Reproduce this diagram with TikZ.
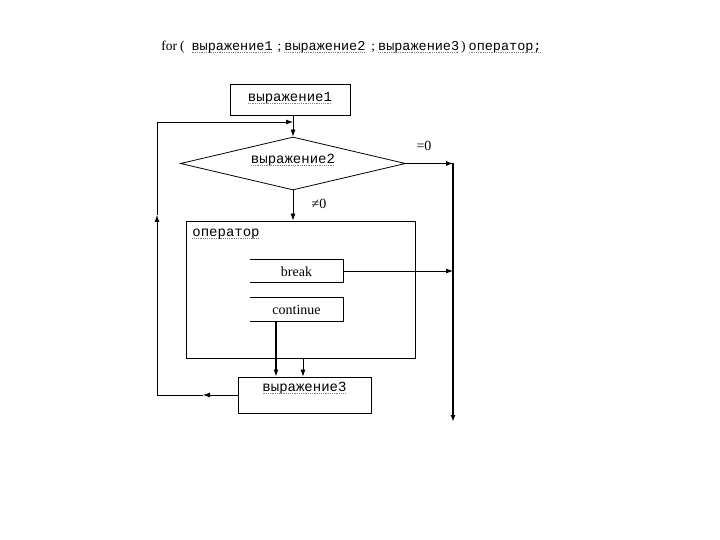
\documentclass[tikz,border=0pt]{standalone}
\usepackage{fontspec}
\setmainfont{Liberation Serif}
\newfontfamily\monof{Liberation Mono}
\usetikzlibrary{arrows.meta,shapes.geometric}
\newsavebox\mwbox
\newcommand\mw[1]{\sbox\mwbox{\monof #1}\rlap{\usebox\mwbox}\raisebox{-2.8pt}{\color{gray}\hbox to\wd\mwbox{\xleaders\hbox{\rule{0.9pt}{0.9pt}\kern0.9pt}\hfill}}}
\tikzset{
  arr/.style={-{Latex[length=7pt,width=5pt]}},
  thk/.style={line width=2.2pt},
  boxn/.style={draw, line width=0.8pt, inner sep=0pt},
  lbl/.style={inner sep=0pt, font=\fontsize{14}{16}\selectfont},
  every path/.style={line width=0.8pt}
}
\begin{document}
\begin{tikzpicture}[x=1pt,y=-1pt]
\useasboundingbox (0,0) rectangle (720,540);
% title
\node[lbl, anchor=west, font=\fontsize{13.5}{16}\selectfont] (title) at (161,47) {for\kern3pt(\kern7pt\mw{выражение1}\kern5pt;\kern3pt\mw{выражение2}\kern6pt;\kern3pt\mw{выражение3}\kern2pt)\kern3pt\mw{оператор;}};
% boxes
\node[boxn, minimum width=120pt, minimum height=31pt] (e1) at (290,99.5) {};
\node[lbl] (e1t) at (290,98) {\mw{выражение1}};
\node[draw, diamond, aspect=4.25, inner sep=0pt, minimum width=225pt, minimum height=53pt] (d) at (293,163.5) {};
\node[lbl] (dt) at (293,160) {\mw{выражение2}};
\node[boxn, minimum width=229pt, minimum height=137pt] (op) at (300.5,289.5) {};
\node[lbl, anchor=west] (opt) at (192,234) {\mw{оператор}};
\node[inner sep=0pt, minimum width=93pt, minimum height=22pt] (br) at (296.5,271) {};
\node[lbl] (brt) at (296.5,271.5) {break};
\draw (br.north west) -- (br.north east) -- (br.south east) -- (br.south west);
\node[inner sep=0pt, minimum width=93pt, minimum height=23pt] (co) at (296.5,309.5) {};
\node[lbl] (cot) at (296.5,310) {continue};
\draw (co.north west) -- (co.north east) -- (co.south east) -- (co.south west);
\node[boxn, minimum width=133pt, minimum height=36pt] (e3) at (304.5,395) {};
\node[lbl] (e3t) at (304.5,388) {\mw{выражение3}};
% labels
\node[lbl] (eq) at (424,146) {=0};
\node[lbl] (ne) at (319,204) {≠0};
% coordinates
\coordinate (rt) at (453,163.5);
\coordinate (rb) at (453,422);
\coordinate (brr) at (453,271);
\coordinate (la) at (203,395);
\coordinate (lb) at (157,395);
\coordinate (lm) at (157,215);
\coordinate (lt) at (157,122);
\coordinate (tj) at (293,122);
% connectors
\draw[arr] (e1.south -| d.north) -- (d.north);
\draw[arr] (d.south) -- (d.south |- op.north);
\draw[arr] (d.east) -- (rt);
\draw[thk,arr] (rt) -- (rb);
\draw[arr] (br.east) -- (brr);
\draw[thk,arr] ([xshift=-20.5pt]co.south) -- ([xshift=-20.5pt]co.south |- e3.north);
\draw[arr] ([xshift=2.5pt]op.south) -- ([xshift=2.5pt]op.south |- e3.north);
\draw[arr] (e3.west) -- (la);
\draw (la) -- (lb);
\draw[arr] (lb) -- (lm);
\draw[arr] (lm) -- (lt) -- (tj);
\end{tikzpicture}
\end{document}
